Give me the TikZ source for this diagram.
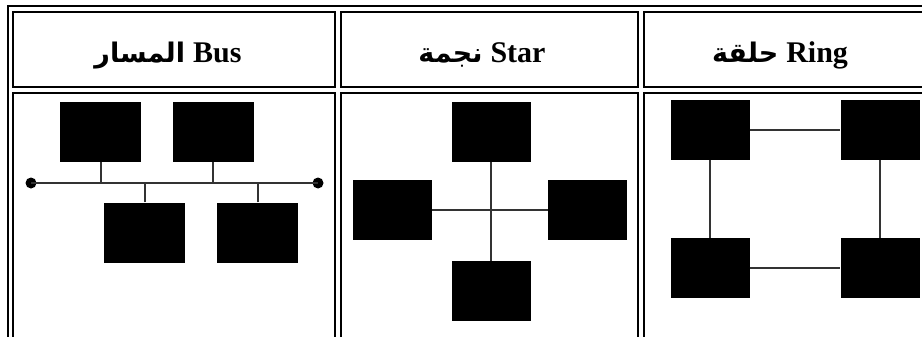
\documentclass[tikz,border=0pt]{standalone}
\usepackage{fontspec}
\setmainfont{Liberation Serif}
\newfontfamily\arabicfont[Script=Arabic]{DejaVu Sans}
\TeXXeTstate=1
\newcommand{\arabichead}[1]{{\arabicfont\fontsize{27}{32}\selectfont\bfseries\beginR #1\endR}}
\begin{document}
\begin{tikzpicture}[x=1pt,y=-1pt,
  frame/.style={draw=black,line width=2pt},
  pc/.style={rectangle,fill=black,inner sep=0pt,minimum width=79pt,minimum height=60pt},
  wire/.style={draw=black!80,line width=2pt},
  busend/.style={circle,fill=black,inner sep=0pt,minimum size=11pt},
  head/.style={anchor=base,inner sep=0pt,font=\fontsize{30}{36}\selectfont\bfseries}]
\useasboundingbox (0,0) rectangle (922,337);
\fill[white] (0,0) rectangle (922,337);
\begin{scope}
\clip (0,0) rectangle (922,337);
% outer table frame and cell frames
\draw[frame] (8,6) rectangle (950,420);
\draw[frame] (13,12) rectangle (335,87);
\draw[frame] (341,12) rectangle (638,87);
\draw[frame] (644,12) rectangle (940,87);
\draw[frame] (13,93) rectangle (335,410);
\draw[frame] (341,93) rectangle (638,410);
\draw[frame] (644,93) rectangle (940,410);
\end{scope}

% column headings
\node[head] (h1) at (168,63) {\arabichead{المسار}\hspace{8pt}Bus};
\node[head] (h2) at (482,63) {\arabichead{نجمة}\hspace{8pt}Star};
\node[head] (h3) at (780,63) {\arabichead{حلقة}\hspace{8pt}Ring};

% bus topology
\node[pc,minimum width=81pt] (b1) at (100.5,132) {};
\node[pc,minimum width=81pt] (b2) at (213,132) {};
\node[pc,minimum width=81pt] (b3) at (144.5,232.5) {};
\node[pc,minimum width=81pt] (b4) at (257.5,232.5) {};
\node[busend] (bl) at (31,183) {};
\node[busend] (br) at (318,183) {};
\draw[wire] (bl.center) -- (br.center);
\draw[wire] (b1.south) -- (b1.south |- bl);
\draw[wire] (b2.south) -- (b2.south |- bl);
\draw[wire] (b3.north) -- (b3.north |- bl);
\draw[wire] (b4.north) -- (b4.north |- bl);

% star topology
\node[pc] (s1) at (491,132) {};
\node[pc] (s2) at (392.5,210) {};
\node[pc] (s3) at (587.5,210) {};
\node[pc] (s4) at (491,291) {};
\draw[wire] (s1.south) -- (s4.north);
\draw[wire] (s2.east) -- (s3.west);

% ring topology
\node[pc] (r1) at (710,130) {};
\node[pc] (r2) at (880,130) {};
\node[pc] (r3) at (710,268) {};
\node[pc] (r4) at (880,268) {};
\draw[wire] (r1.east) -- (r2.west);
\draw[wire] (r3.east) -- (r4.west);
\draw[wire] (r1.south) -- (r3.north);
\draw[wire] (r2.south) -- (r4.north);
\end{tikzpicture}
\end{document}
